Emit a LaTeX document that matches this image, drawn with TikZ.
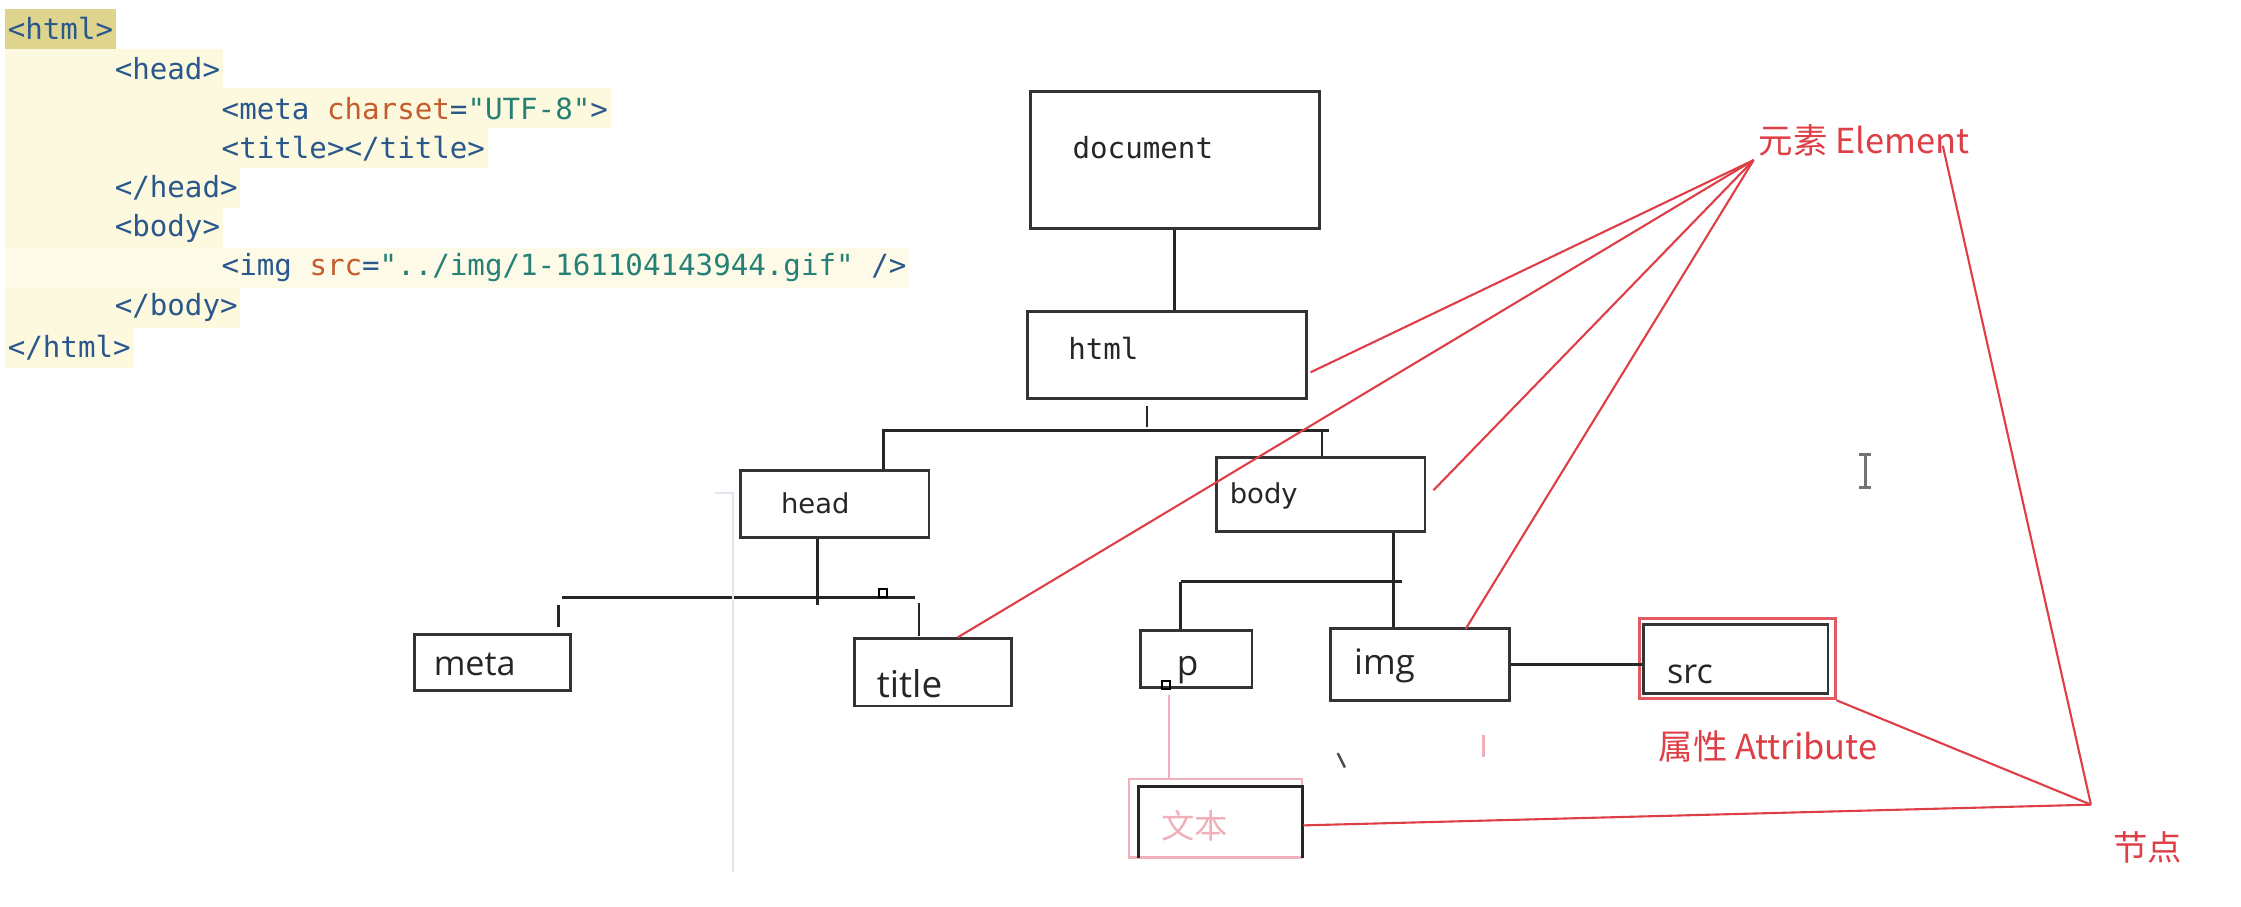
\documentclass[tikz,border=0pt]{standalone}
\usepackage{fontspec}
\usetikzlibrary{fit,calc,positioning}
\newfontfamily\codefont{DejaVu Sans Mono}
\newfontfamily\dvsans{DejaVu Sans}
\newfontfamily\uisans{Open Sans}
\newfontfamily\cjk{Noto Sans CJK SC}
\newcommand\fsz[1]{\fontsize{#1}{#1}\selectfont}
\definecolor{tagblue}{RGB}{42,88,140}
\definecolor{attrorange}{RGB}{196,92,44}
\definecolor{valteal}{RGB}{38,128,118}
\definecolor{codebg}{RGB}{252,249,222}
\definecolor{htmlbg}{RGB}{222,212,142}
\definecolor{elemred}{RGB}{222,62,70}
\definecolor{textpink}{RGB}{240,176,186}
\begin{document}
\begin{tikzpicture}[x=0.014292cm,y=-0.014292cm,line cap=butt,line join=miter,
  code/.style={anchor=west,inner xsep=0.8pt,inner ysep=0pt,minimum height=0.399cm,fill=codebg,text=tagblue,font=\codefont\fsz{8.3}},
  box/.style={draw=black!80,line width=0.8pt,inner sep=0pt},
  tree/.style={black!85,line width=0.8pt},
  lbl/.style={anchor=west,inner sep=0pt,text=black!85},
  redline/.style={draw=elemred,line width=0.6pt},
  redlbl/.style={anchor=west,inner sep=0pt,text=elemred,font=\cjk\fsz{9.8}},
  handle/.style={draw=black,line width=0.6pt,minimum size=0.08cm,inner sep=0pt}]
\useasboundingbox (0,0) rectangle (1568,634);
% source code
\node[code,fill=htmlbg] (c1) at (3,20) {<html>};
\node[code] (c2) at (3,47.9) {\hspace*{1.07cm}<head>};
\node[code] (c3) at (3,75.8) {\hspace*{2.14cm}<meta \textcolor{attrorange}{charset}=\textcolor{valteal}{"UTF-8"}>};
\node[code] (c4) at (3,103.7) {\hspace*{2.14cm}<title></title>};
\node[code] (c5) at (3,131.6) {\hspace*{1.07cm}</head>};
\node[code] (c6) at (3,159.5) {\hspace*{1.07cm}<body>};
\node[code,fill=codebg!70] (c7) at (3,187.4) {\hspace*{2.14cm}<img \textcolor{attrorange}{src}=\textcolor{valteal}{"../img/1-161104143944.gif"} />};
\node[code] (c8) at (3,215.3) {\hspace*{1.07cm}</body>};
\node[code] (c9) at (3,243.2) {</html>};
% tree boxes
\node[box,fit={(721,64)(923,160)}] (doc) {};
\node[box,fit={(719,218)(914,279)}] (html) {};
\node[box,fit={(518,329)(650,376)}] (head) {};
\node[box,fit={(851,320)(997,372)}] (body) {};
\node[box,fit={(290,444)(399,483)}] (meta) {};
\node[box,fit={(598,447)(708,494)}] (title) {};
\node[box,fit={(798,441)(876,481)}] (p) {};
\node[box,fit={(931,440)(1056,490)}] (img) {};
\node[box,fit={(1150,437)(1279,485)}] (src) {};
\node[draw=elemred!85,line width=0.8pt,inner sep=0pt,fit={(1147,433)(1284,489)}] (srcred) {};
\node[draw=textpink,line width=0.8pt,inner sep=0pt,fit={(790,545)(911,600)}] (txtred) {};
\node[inner sep=0pt,fit={(797,551)(911,600)}] (txtbox) {};
\draw[tree] (txtbox.south west) |- (txtbox.north east) -- (txtbox.south east);
% labels
\node[lbl,font=\codefont\fsz{8.3}] (doclbl) at (750,103) {document};
\node[lbl,font=\codefont\fsz{8.3}] (htmllbl) at (747,244) {html};
\node[lbl,font=\dvsans\fsz{7.8}] (headlbl) at (546,352) {head};
\node[lbl,font=\dvsans\fsz{7.8}] (bodylbl) at (860,347) {body};
\node[lbl,font=\uisans\fsz{9.7}] (metalbl) at (303,465) {meta};
\node[lbl,font=\uisans\fsz{10.5}] (titlelbl) at (613,478) {title};
\node[lbl,font=\uisans\fsz{10}] (plbl) at (823,469) {p};
\node[lbl,font=\uisans\fsz{10}] (imglbl) at (947,466) {img};
\node[lbl,font=\uisans\fsz{9.7}] (srclbl) at (1166,472) {src};
\node[lbl,text=textpink,font=\cjk\fsz{9.5}] (txtlbl) at (812,578) {文本};
\node[redlbl] (elem) at (1230,98) {元素 Element};
\node[redlbl] (attr) at (1160,522) {属性 Attribute};
\node[redlbl] (nodelbl) at (1478,593) {节点};
% tree connectors
\coordinate (b1L) at (618,301);
\coordinate (b1R) at (925,301);
\coordinate (b2L) at (393,418);
\coordinate (b2R) at (640,418);
\coordinate (b2) at (572,418);
\coordinate (b3L) at (826,407);
\coordinate (b3) at (975,407);
\draw[tree] (doc.south) -- (doc.south |- html.north);
\draw[tree] ($(html.south)+(-14,4)$) -- ++(0,15);
\draw[tree] (head.north -| b1L) |- (b1R) -- ++(5,0);
\draw[tree] (b1R) -- (body.north -| b1R);
\draw[tree] (head.south -| b2) -- ++(0,46);
\draw[tree] (b2L) -- (b2R);
\draw[tree] ($(meta.north)+(46,-4)$) -- ++(0,-16);
\draw[tree] ($(title.north)+(-10,-1)$) -- ++(0,-23);
\node[handle] (h1) at (618,415) {};
\draw[tree] (body.south -| b3) -- (img.north -| b3);
\draw[tree] (b3L) -- ++(155,0);
\draw[tree] (b3L) -- (p.north -| b3L);
\node[handle] (h2) at (816,479) {};
\draw[tree] (img.east) -- (img.east -| src.west);
\draw[textpink,line width=0.6pt] ($(p.south)+(-19,4)$) coordinate (pk) -- (pk |- txtred.north);
% red pointers
\coordinate (ehub) at (1227,112);
\coordinate (nhub) at (1463,563);
\draw[redline] (ehub) -- ($(html.east)+(2,12)$);
\draw[redline] (ehub) -- ($(title.north)+(17,0)$);
\draw[redline] (ehub) -- ($(body.east)+(5,-3)$);
\draw[redline] (ehub) -- ($(img.north)+(32,1)$);
\draw[redline] (nhub) -- ($(elem.east)+(-19,4)$);
\draw[redline] (nhub) -- (srcred.south east);
\draw[redline] (nhub) -- ($(txtred.east)+(0,5)$);
% stray marks
\draw[black!55,line width=0.9pt] (1301,318) -- (1309,318) (1305,318) -- (1305,341) (1301,341) -- (1309,341);
\draw[black!70,line width=0.7pt] (936,527) -- (941,537);
\draw[textpink,line width=0.6pt] (1038,514) -- (1038,530);
\draw[blue!30!black!10,line width=0.5pt] (500,345) -- (513,345) -- (513,610);
\end{tikzpicture}
\end{document}
